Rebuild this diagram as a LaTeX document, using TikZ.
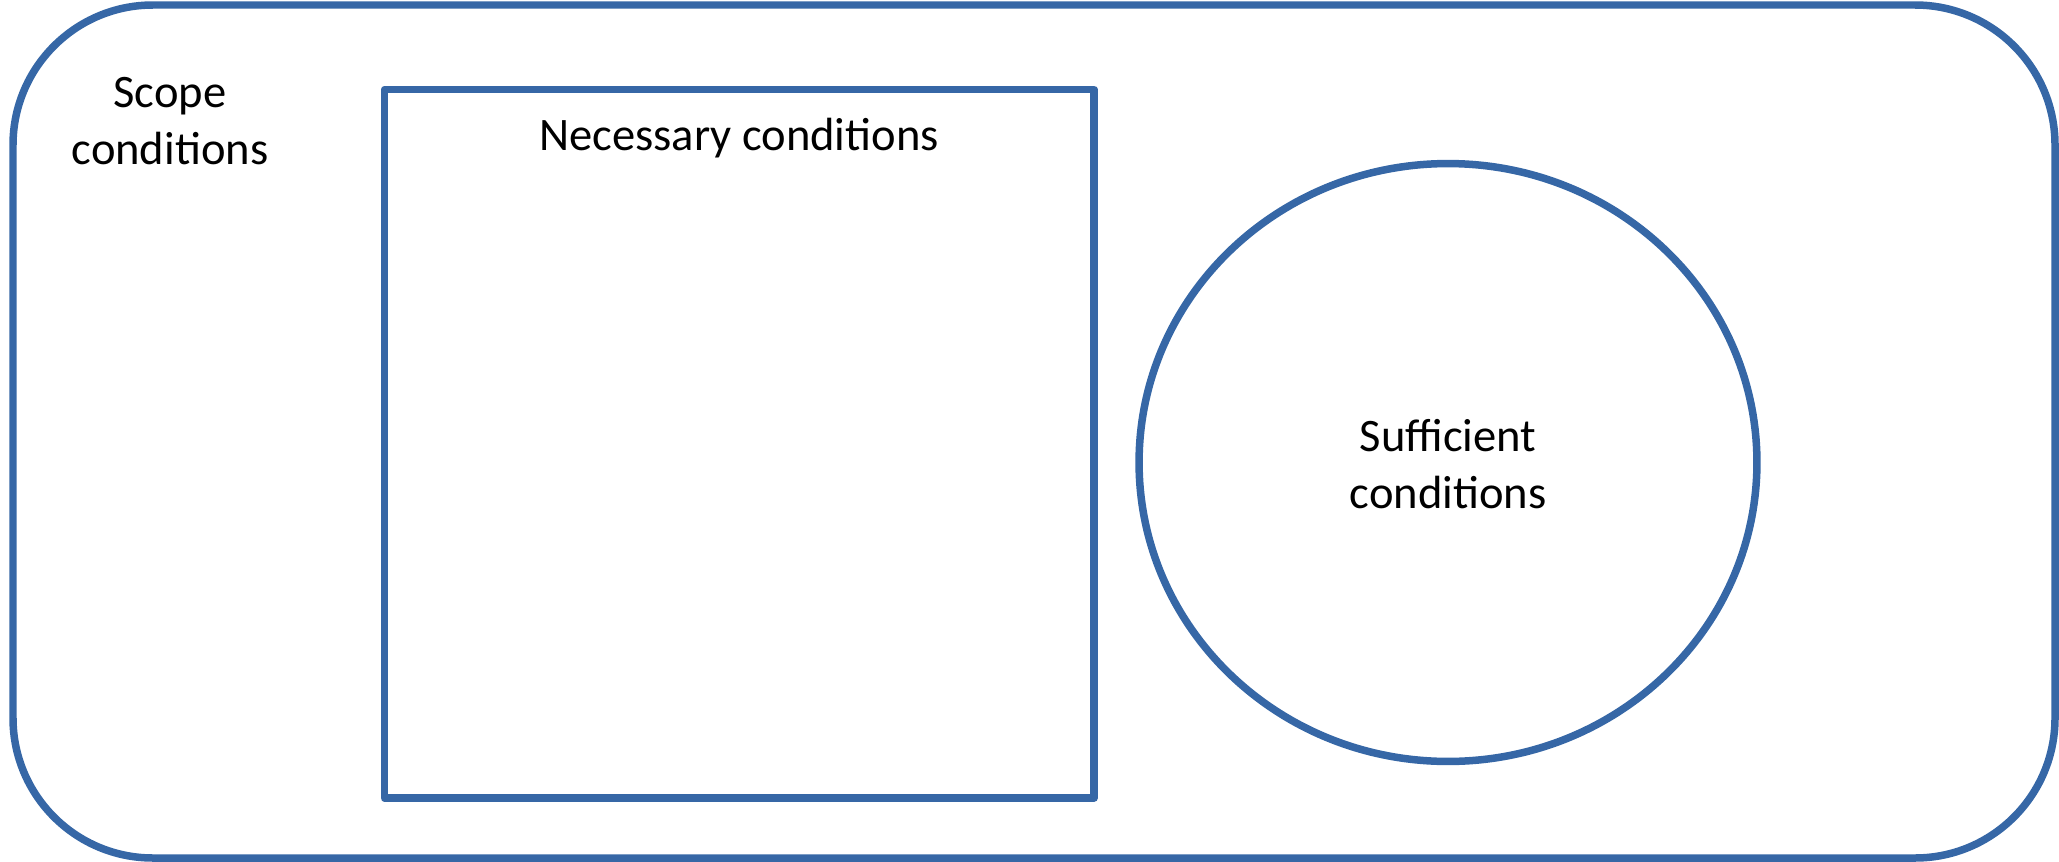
\documentclass[tikz,border=0pt]{standalone}
\usepackage{fontspec}
\setmainfont{Carlito}
\usetikzlibrary{shapes.geometric}
\definecolor{condblue}{RGB}{54,103,166}
\tikzset{
  outline/.style={draw=condblue, line width=0.15cm},
  label/.style={font=\fontsize{26.5}{32.4}\selectfont, align=center, inner sep=0pt}
}
\begin{document}
\begin{tikzpicture}[x=0.02cm, y=-0.02cm]
            \useasboundingbox (0,0) rectangle (2059,862);
            % Scope conditions (outer box)
            \draw[outline, rounded corners=2.8cm] (13,5) rectangle (2055,858);
            \node[label] (scope) at (170,121.5) {Scope\\conditions};
            % Necessary conditions (square)
            \draw[outline, line join=round] (384.5,89.5) rectangle (1094,798);
            \node[label, anchor=base] (necessary) at (739,150) {Necessary conditions};
            % Sufficient conditions (ellipse)
            \node[outline, ellipse, minimum width=12.36cm, minimum height=11.96cm, inner sep=0pt] (sufficientbox) at (1448,462.5) {};
            \node[label] (sufficient) at (1448,464.5) {Sufficient\\conditions};
\end{tikzpicture}
\end{document}
